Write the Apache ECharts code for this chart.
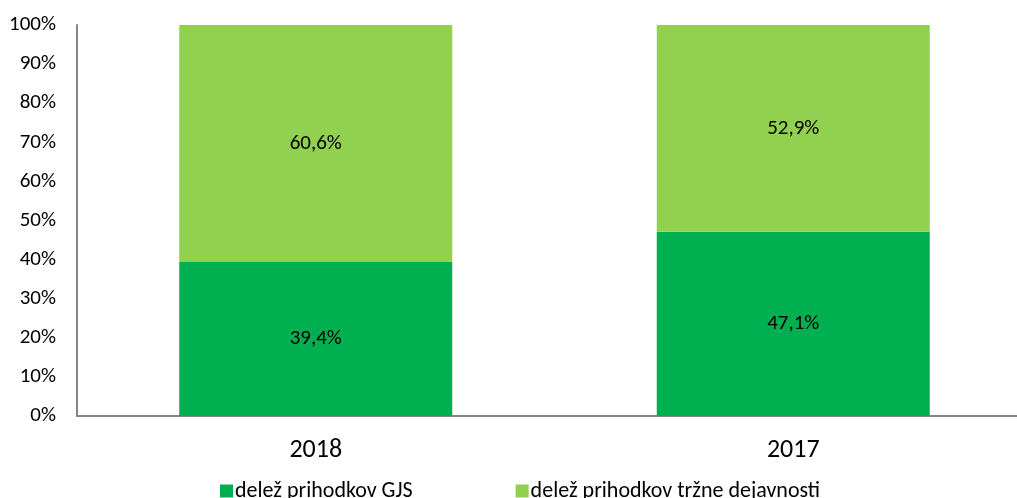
<!DOCTYPE html>
<html>
<head>
<meta charset="utf-8">
<script src="https://cdn.jsdelivr.net/npm/echarts@6/dist/echarts.min.js"></script>
<style>
  html, body { margin: 0; padding: 0; background: #fff; overflow: hidden; }
  /* plot area runs a little past the right edge of the picture */
  #chart { width: 1032px; height: 498px; }
</style>
</head>
<body>
<div id="chart"></div>
<script>
// leta (kategorije)
const years = ['2018', '2017']
// delež prihodkov GJS
const gjsShare = [39.4, 47.1]
// delež prihodkov tržne dejavnosti
const marketShare = [60.6, 52.9]
const seriesNames = ['delež prihodkov GJS', 'delež prihodkov tržne dejavnosti']

const font = 'Carlito, Lato, sans-serif'
const chart = echarts.init(document.getElementById('chart'))

const fmt = p => p.value.toFixed(1).replace('.', ',') + '%'

const option = {
  animation: false,
  color: ['#00b050', '#92d050'],
  textStyle: { fontFamily: font },
  grid: {
    left: 77,
    top: 25,
    bottom: 82,
    right: 0
  },
  legend: {
    left: 215,
    top: 475,
    icon: 'rect',
    itemWidth: 13,
    itemHeight: 13,
    itemGap: 103,
    textStyle: { fontFamily: font, fontSize: 22, color: '#000', padding: [0, 0, 0, -3] },
    data: seriesNames
  },
  xAxis: {
    type: 'category',
    data: years,
    axisLine: { lineStyle: { color: '#868686', width: 2 } },
    axisTick: { show: false },
    axisLabel: { fontFamily: font, fontSize: 26, color: '#000', margin: 21 }
  },
  yAxis: {
    type: 'value',
    min: 0,
    max: 100,
    interval: 10,
    axisLine: { show: true, lineStyle: { color: '#868686', width: 2 } },
    axisTick: { show: false },
    splitLine: { show: false },
    axisLabel: {
      fontFamily: font,
      fontSize: 21,
      color: '#000',
      margin: 21,
      formatter: '{value}%'
    }
  },
  series: [
    {
      name: seriesNames[0],
      type: 'bar',
      stack: 'total',
      barWidth: 273,
      data: gjsShare,
      label: { show: true, position: 'inside', formatter: fmt, fontFamily: font, fontSize: 21, color: '#000' }
    },
    {
      name: seriesNames[1],
      type: 'bar',
      stack: 'total',
      barWidth: 273,
      data: marketShare,
      label: { show: true, position: 'inside', formatter: fmt, fontFamily: font, fontSize: 21, color: '#000' }
    }
  ]
}
chart.setOption(option)
</script>
</body>
</html>
